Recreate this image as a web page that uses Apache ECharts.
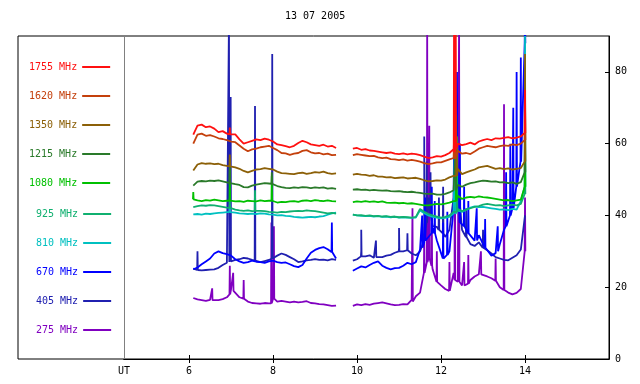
<!DOCTYPE html>
<html><head><meta charset="utf-8">
<script src="https://cdn.jsdelivr.net/npm/echarts@6/dist/echarts.min.js"></script>
<style>html,body{margin:0;padding:0;background:#fff}#c{width:640px;height:384px}</style>
</head><body><div id="c"></div>
<script>
const title = '13 07 2005';
const xTicks = [6, 8, 10, 12, 14];
const yTicks = [0, 20, 40, 60, 80];
const times = [6.1,6.2,6.3,6.4,6.5,6.6,6.7,6.8,6.9,7.0,7.1,7.2,7.3,7.4,7.5,7.6,7.7,7.8,7.9,8.0,8.1,8.2,8.3,8.4,8.5,8.6,8.7,8.8,8.9,9.0,9.1,9.2,9.3,9.4,9.5,
  9.9,10.0,10.1,10.2,10.3,10.4,10.5,10.6,10.7,10.8,10.9,11.0,11.1,11.2,11.3,11.4,11.5,11.6,11.7,11.8,11.9,12.0,12.1,12.2,12.3,12.4,12.5,12.6,12.7,12.8,12.9,13.0,13.1,13.2,13.3,13.4,13.5,13.6,13.7,13.8,13.9,14.0];
const gapTime = 9.72;
const names = ['1755 MHz','1620 MHz','1350 MHz','1215 MHz','1080 MHz','925 MHz','810 MHz','670 MHz','405 MHz','275 MHz'];
const colors = ['#ff1010','#c4400c','#8c6008','#2a7a2a','#00c000','#10b070','#00c0c0','#0000ff','#2020b0','#8000c0'];

const v1755 = [62.5,65,65.3,64.6,64.8,64.2,63.2,63.5,62.8,62.4, 62.6,61.2,60,60.4,60.8,61.2,61,61.4,61.1,60.6, 59.8,59.6,59.3,59,59.4,60.2,60.8,60.4,59.8,59.6, 59.4,59.7,59.2,59.4,58.8,
  58.6,58.8,58.3,58.5,58.1,58,57.8,57.6,57.4,57.6, 57.2,57.1,57.3,57,57.2,57.1,56.8,56.4,56,56.2, 56.5,56.4,56.8,57.4,58.5,60,59.6,59.9,60.3,59.8, 60.6,61,61.3,61,61.5,61.4,61.6,61.8,61.5,61.7, 62,63];
const v1620 = [60,62.5,62.8,62.2,62.4,62,61.5,61.3,61,60.6, 60.4,59.5,58.6,57.9,58.4,58.6,59,59.2,59.4,58.8, 58.2,57.4,57.3,56.9,57.2,57.4,58,58.2,57.6,57.3, 57.4,57,57.2,56.8,56.9,
  56.8,57.1,56.9,56.7,56.5,56.6,56.2,56,56.1,55.7, 55.6,55.4,55.6,55.3,55.5,55.3,55,54.6,54.3,54.5, 54.8,54.8,55.2,55.6,56,58,57.2,57.4,57.1,57.8, 58.6,59,59.4,59.2,59,59.3,59.5,59.4,59.8,59.6, 60,61];
const v1350 = [52.5,54.2,54.6,54.4,54.5,54.3,54.4,54,53.8,53.6, 53.4,53,52.4,52,52.4,52.8,52.9,53.2,53,52.8, 52.2,51.8,51.7,51.6,51.5,51.8,51.9,51.6,51.8,52.1, 51.9,52.2,51.8,51.6,51.7,
  51.4,51.6,51.4,51.3,51,51.2,50.8,50.8,50.6,50.7, 50.4,50.5,50.6,50.3,50.4,50.5,50.2,49.8,49.5,49.6, 49.8,49.7,50,50.6,51,53,51.5,52,52.4,52.8, 53.4,53.6,53.8,53.4,53,53.2,52.9,53.1,52.8,53, 53.2,55];
const v1215 = [48.3,49.4,49.6,49.5,49.7,49.6,49.8,49.5,49.2,48.9, 48.7,48.5,47.9,47.8,48.3,48.6,48.8,49,48.9,48.8, 48.2,47.9,47.7,47.6,47.8,47.7,47.9,47.8,47.6,47.8, 47.7,47.8,47.5,47.6,47.4,
  47.2,47.3,47.1,47.2,47,47.1,47,46.9,47,46.8, 46.7,46.8,46.6,46.5,46.6,46.4,46.3,46.1,46,46.1, 45.8,45.8,46,46.4,47,48.5,48,48.6,49,49.2, 49.5,49.7,49.6,49.4,49.5,49.2,49.3,49,49.2,48.8, 49.3,52];
const v1080 = [44.5,44.2,44,44.3,44.1,44.4,44.2,44,44.1,44.2, 43.9,44,43.8,44.1,44,43.9,44.2,44,44.1,43.8, 43.6,43.8,43.7,43.9,44,43.8,44.1,44.2,44,44.3, 44.1,44,44.2,44,43.9,
  43.7,43.9,43.8,44,43.8,43.9,43.7,43.9,43.6,43.5, 43.6,43.4,43.5,43.3,43.4,43.2,43,42.8,42.8,43, 43.2,43.1,43.3,43.6,44,45.5,44.6,45,45.2,45, 45.3,45.1,45,44.8,44.6,44.4,44.2,44.3,44,44.2, 44.4,48];
const v925 = [42.3,42.6,42.8,42.7,42.9,42.8,42.6,42.4,42.2,42, 41.6,41.4,41.3,41.4,41.2,41.4,41.3,41.2,41,40.9, 40.8,41,40.9,41.1,41.2,41.3,41.2,41.4,41.3,41.2, 41,40.8,40.6,40.7,40.5,
  40.2,40,40.1,39.9,40,39.8,39.9,39.7,39.8,39.6, 39.7,39.5,39.6,39.5,39.4,39.6,41.8,41,40.4,40, 39.7,39.4,39.6,40,41,41.8,41.2,41.6,42,42.4, 42.6,43,43.2,43,42.8,42.9,42.6,42.8,43,42.8, 43.2,46];
const v810 = [40.3,40.4,40.2,40.5,40.4,40.6,40.7,40.8,40.9,41, 40.8,40.6,40.5,40.4,40.5,40.4,40.6,40.5,40.3,40.2, 40,40.1,39.9,39.8,39.6,39.5,39.4,39.5,39.6,39.5, 39.7,39.8,40.2,40.6,40.8,
  40.2,40,39.9,39.8,39.9,39.7,39.8,39.6,39.7,39.5, 39.6,39.4,39.5,39.4,39.3,39.4,41.4,40.6,40,39.6, 39.4,39.2,39.3,39.6,40.5,41.4,41,41.6,42.2,42.5, 42.3,42.4,42.2,42,41.8,41.6,41.7,41.5,41.8,41.6, 44,48];
const v670 = [25,25.5,26.4,27.2,28,29.4,30,29.5,29.2,28.8, 27.8,27.2,26.8,27,27.4,27.1,27,26.8,27.2,27.4, 27,26.8,26.9,26.4,25.9,25.6,26.2,28,29.6,30.4, 30.9,31.2,30.6,29.8,28,
  24.6,25.2,25.8,25.5,26.2,26.8,27.2,26,25.4,25, 25.3,25.4,26,26.8,26.4,27,30.5,32.5,34,36.5, 33,29.5,28,30,42,55,38,36,34.5,33, 34.5,32,30.5,28.8,29.5,32,36,38.5,42,48, 55,88];
const v405 = [25.2,24.8,24.7,24.8,24.9,25,25.4,26.2,26.8,27.4, 27.6,27.8,28.2,28,27.6,27.2,27,27.3,27.6,28.2, 28.8,29.4,29,28.4,27.8,27,27.2,27.5,27.6,27.8, 27.6,27.7,27.5,27.8,27.6,
  27.4,27.8,30,28.6,28.9,28.2,28.6,28.4,28.8,29, 29.6,31,30,30.3,29.4,28.9,30,38,45,37, 36.8,35.5,34,36,45,50,36,33.5,32,31.5, 32.5,30.8,30.3,29.4,28.4,28,27.6,27.5,28.2,28.9, 30.5,40];
const v275 = [17,16.6,16.4,16.2,16.5,16.3,16.4,16.7,17.2,19.5, 18.6,17.2,16.8,16,15.6,15.5,15.4,15.6,15.5,16.8, 16,16.2,16,15.8,16,15.8,15.9,16.1,15.6,15.5, 15.3,15.2,15,14.8,14.9,
  14.8,15.2,15,15.3,15.1,15.4,15.6,15.8,15.5,15.2, 15,15.1,15.3,15.2,16.5,17.5,18.5,24,28,25, 21.5,20.5,19.5,19,24,21.5,20.5,21,22,23, 23.6,23.8,23,22.5,21.8,20,19.2,18.5,18,18.4, 19.5,30];

// spikes: [time, base level, peak]
const s1755 = [[6.97,62.6,64.5],[12.31,57.6,95],[12.35,58.5,95],[14.0,63,75]];
const s1620 = [[12.33,55.8,75],[14.0,61,72]];
const s1350 = [[6.97,53.7,57],[12.37,51,62],[14.0,55,85]];
const s1215 = [[6.97,49,56],[7.97,48.8,52],[12.35,47,60],[14.0,52,66]];
const s1080 = [[6.1,44.5,46.5],[6.97,44.1,53],[7.97,44.1,51],[12.36,44,68],[14.0,48,62]];
const s925 = [[6.97,42.1,45],[7.57,41.3,47],[12.38,41,62],[14.0,46,58]];
const s810 = [[6.97,40.9,43],[12.34,40.5,70],[14.0,48,90]];
const s670 = [[9.4,29.8,38],[11.55,31,40],[11.62,33,45],[11.78,35,48],[11.85,35,44],[12.05,28,38],[12.15,29,41],
  [12.32,42,72],[12.38,55,80],[12.45,38,60],[12.55,37,48],[12.65,35,44],[12.85,33,42],[13.05,31,39],[13.35,30,37],
  [13.55,37,52],[13.65,40,60],[13.72,42,70],[13.8,48,80],[13.9,55,84],[14.0,88,95]];
const s405 = [[6.2,24.8,30],[6.95,27,95],[6.99,27.2,73],[7.57,27.4,70.5],[7.98,28,85],[10.1,28.6,36],[10.45,28.4,33],[11.0,30,36.5],[11.2,30.3,35],
  [11.6,33,62],[11.66,38,55],[11.75,40,52],[11.95,36,45],[12.05,35,48],[12.33,45,88],[12.6,34,42],[13.0,31,36]];
const s275 = [[6.55,16.4,19.7],[6.97,18,26],[7.05,19,24],[7.3,16.8,22],[7.96,15.5,38],[8.02,16.8,37],[11.32,16,42],[11.6,24,35],
  [11.67,27,95],[11.72,28,65],[11.78,26,40],[11.9,21.5,30],[12.2,19,27],[12.33,22,95],[12.43,21.5,95],[12.55,20.5,27],[12.65,21,29],
  [12.95,23.6,30],[13.3,21.8,28],[13.5,19.2,71],[14.0,30,45]];

const values = [v1755,v1620,v1350,v1215,v1080,v925,v810,v670,v405,v275];
const spikes = [s1755,s1620,s1350,s1215,s1080,s925,s810,s670,s405,s275];

function build(vals, sp) {
  const pts = times.map((t, i) => [t, vals[i]]);
  pts.push([gapTime, null]);
  sp.forEach(s => { pts.push([s[0] - 0.008, s[1]], [s[0], s[2]], [s[0] + 0.008, s[1]]); });
  pts.sort((a, b) => a[0] - b[0]);
  return pts;
}

const FONT = 'DejaVu Sans Mono';
const series = [];
for (let k = names.length - 1; k >= 0; k--) {
  series.push({
    name: names[k], type: 'line', xAxisIndex: 0, yAxisIndex: 0,
    data: build(values[k], spikes[k]), showSymbol: false, symbol: 'none',
    connectNulls: false, animation: false,
    lineStyle: { color: colors[k], width: 1.8 }, itemStyle: { color: colors[k] }
  });
}
function legendData(list) {
  return list.map(n => ({ name: n, textStyle: { color: colors[names.indexOf(n)] } }));
}
const legendCommon = {
  orient: 'vertical', align: 'right', icon: 'rect', itemWidth: 28, itemHeight: 2,
  itemGap: 17, padding: 0, selectedMode: false,
  textStyle: { fontFamily: FONT, fontSize: 10, lineHeight: 12 }
};

const chart = echarts.init(document.getElementById('c'));
chart.setOption({
  animation: false,
  backgroundColor: '#fff',
  title: { text: title, left: 285, top: 11, padding: 0,
    textStyle: { fontFamily: FONT, fontSize: 10, fontWeight: 'normal', color: '#000' } },
  legend: [
    Object.assign({}, legendCommon, { left: 29, top: 61, data: legendData(names.slice(0, 5)) }),
    Object.assign({}, legendCommon, { left: 36, top: 208, data: legendData(names.slice(5)) })
  ],
  grid: [
    { left: 124, right: 31, top: 36, bottom: 25 },
    { left: 18, right: 31, top: 36, bottom: 25, show: true, borderColor: '#000', borderWidth: 1, backgroundColor: 'transparent' }
  ],
  xAxis: [
    { type: 'value', gridIndex: 0, position: 'bottom', min: 4.45, max: 16,
      axisLine: { show: true, lineStyle: { color: '#000', width: 1 } },
      axisTick: { show: true, inside: true, length: 4, customValues: xTicks, lineStyle: { color: '#000' } },
      axisLabel: { show: true, customValues: [4.45].concat(xTicks), margin: 7,
        fontFamily: FONT, fontSize: 10, color: '#000',
        formatter: v => (v < 5 ? 'UT' : String(v)) },
      splitLine: { show: false } },
    { type: 'value', gridIndex: 0, position: 'top', min: 4.45, max: 16,
      axisLine: { show: true, lineStyle: { color: '#000', width: 1 } },
      axisTick: { show: true, inside: true, length: 4, customValues: xTicks, lineStyle: { color: '#000' } },
      axisLabel: { show: false }, splitLine: { show: false } },
    { type: 'value', gridIndex: 1, show: false }
  ],
  yAxis: [
    { type: 'value', gridIndex: 0, position: 'right', min: 0, max: 90, interval: 20,
      axisLine: { show: true, lineStyle: { color: '#000', width: 1 } },
      axisTick: { show: true, inside: true, length: 4, customValues: yTicks, lineStyle: { color: '#000' } },
      axisLabel: { show: true, customValues: yTicks, margin: 6, fontFamily: FONT, fontSize: 10, color: '#000' },
      splitLine: { show: false } },
    { type: 'value', gridIndex: 0, position: 'left', min: 0, max: 90,
      axisLine: { show: true, lineStyle: { color: '#808080', width: 1 } },
      axisTick: { show: false }, axisLabel: { show: false }, splitLine: { show: false } },
    { type: 'value', gridIndex: 1, show: false }
  ],
  series: series
});
</script></body></html>
